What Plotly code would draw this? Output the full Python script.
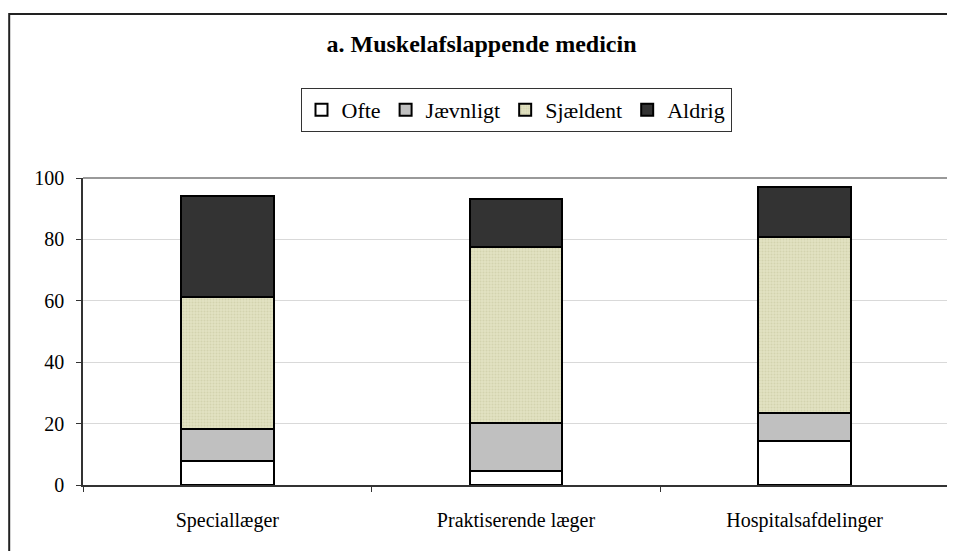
import plotly.graph_objects as go

categories = ["Speciallæger", "Praktiserende læger", "Hospitalsafdelinger"]
ofte = [7.8, 4.6, 14.3]
jaevnligt = [10.5, 15.7, 9.1]
sjaeldent = [42.8, 57.1, 57.3]
aldrig = [33.0, 15.9, 16.5]
y_ticks = [0, 20, 40, 60, 80, 100]

FONT = "Liberation Serif, Times New Roman, serif"
W, H = 947, 543  # page body margin of 8px offsets the figure
L, R, T, B = 75, 6, 170, 66
fig = go.Figure()
line = dict(color="black", width=2)
fig.add_trace(go.Bar(name="Ofte", x=categories, y=ofte,
                     marker=dict(color="white", line=line)))
fig.add_trace(go.Bar(name="Jævnligt", x=categories, y=jaevnligt,
                     marker=dict(color="#c0c0c0", line=line)))
fig.add_trace(go.Bar(name="Sjældent", x=categories, y=sjaeldent,
                     marker=dict(color="#e2e2c2", line=line,
                                 pattern=dict(shape=".", fgcolor="#c4c49c",
                                              bgcolor="#e2e2c2", size=3, solidity=0.35))))
fig.add_trace(go.Bar(name="Aldrig", x=categories, y=aldrig,
                     marker=dict(color="#333333", line=line)))

fig.update_layout(
    barmode="stack",
    bargap=0.678,
    width=W, height=H,
    margin=dict(l=L, r=R, t=T, b=B),
    paper_bgcolor="white", plot_bgcolor="white",
    font=dict(family=FONT, color="black"),
    title=dict(text="<b>a. Muskelafslappende medicin</b>", x=0.5, xanchor="center",
               y=1 - 36 / H, yanchor="middle", font=dict(size=24, family=FONT)),
    legend=dict(orientation="h", x=0.5, xanchor="center", y=1.293, yanchor="top",
                bordercolor="#333333", borderwidth=1, font=dict(size=22, family=FONT),
                traceorder="normal"),
    showlegend=True,
)
fig.update_xaxes(showline=True, linecolor="#333333", linewidth=1.5,
                 ticks="outside", tickson="boundaries", ticklen=5, tickcolor="#333333",
                 tickfont=dict(size=20, family=FONT), showgrid=False,
                 ticklabelstandoff=16)
fig.update_yaxes(range=[0, 100], tickvals=y_ticks, showline=True, linecolor="#333333",
                 linewidth=1.5, ticks="outside", ticklen=5, tickcolor="#333333",
                 tickfont=dict(size=20, family=FONT), showgrid=True,
                 gridcolor="#d9d9d9", gridwidth=1, ticklabelstandoff=8)

# top and right gray border of plot area
fig.add_shape(type="line", xref="paper", yref="paper", x0=0, x1=1, y0=1, y1=1,
              line=dict(color="#999999", width=2))
fig.add_shape(type="line", xref="paper", yref="paper", x0=1, x1=1, y0=0, y1=1,
              line=dict(color="#999999", width=2))
# outer chart frame
pw = W - L - R
ph = H - T - B
fig.add_shape(type="rect", xref="paper", yref="paper", x0=(1.2 - L) / pw, x1=1.05,
              y0=-0.4, y1=(H - B - 6) / ph, line=dict(color="#222222", width=2),
              fillcolor="rgba(0,0,0,0)", layer="above")

fig.write_html("out.html")
